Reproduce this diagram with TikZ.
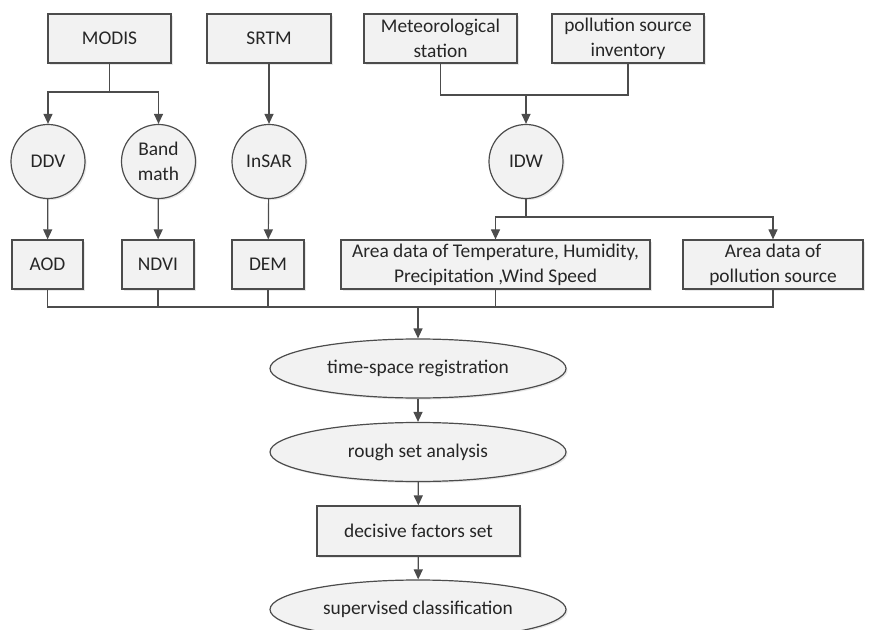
\documentclass[tikz,border=0pt]{standalone}
\usepackage{fontspec}
\setmainfont{Carlito}
\usetikzlibrary{arrows.meta,shapes.geometric,shadows}

\begin{document}
\begin{tikzpicture}[x=0.5pt,y=-0.5pt,
    font=\fontsize{9.7}{12.6}\selectfont, text=black!85,
    base/.style={draw=black!70, fill=black!5, line width=0.6pt, align=center,
      inner sep=1pt, drop shadow={shadow xshift=0.8pt, shadow yshift=-0.8pt, opacity=0.18}},
    box/.style={base, rectangle, minimum height=24.5pt},
    proc/.style={base, circle, minimum size=37pt},
    oval/.style={base, ellipse, minimum width=148pt, minimum height=29.5pt},
    link/.style={draw=black!70, line width=0.6pt},
    arr/.style={link, -{Triangle[length=5pt,width=4.5pt]}}]
    \clip (0,0) rectangle (887,630);
    \useasboundingbox (0,0) rectangle (887,630);
    \node[box, minimum width=61.5pt] (modis) at (109.5,38.5) {MODIS};
    \node[box, minimum width=62pt] (srtm) at (269,38.5) {SRTM};
    \node[box, minimum width=76.5pt] (met) at (440.5,38.5) {Meteorological\\station};
    \node[box, minimum width=76pt] (inv) at (628,38.5) {pollution source\\inventory};
    \node[proc] (ddv) at (48,161.5) {DDV};
    \node[proc] (band) at (158.5,161.5) {Band\\math};
    \node[proc] (insar) at (269,161.5) {InSAR};
    \node[proc] (idw) at (526,161.5) {IDW};
    \node[box, minimum width=35.5pt] (aod) at (47.5,264.5) {AOD};
    \node[box, minimum width=36pt] (ndvi) at (158,264.5) {NDVI};
    \node[box, minimum width=36pt] (dem) at (268,264.5) {DEM};
    \node[box, minimum width=154.5pt] (temp) at (495.5,264.5) {Area data of Temperature, Humidity,\\Precipitation ,Wind Speed};
    \node[box, minimum width=90pt] (psrc) at (773,264.5) {Area data of\\pollution source};
    \node[oval] (reg) at (418,368.5) {time-space registration};
    \node[oval] (rough) at (418,452) {rough set analysis};
    \node[box, minimum width=101.5pt, minimum height=25pt] (fact) at (418.5,531) {decisive factors set};
    \node[oval] (sup) at (418,609.5) {supervised classification};
    \coordinate (split1) at (109.5,92);
    \coordinate (merge1) at (526,95);
    \coordinate (split2) at (526,217);
    \coordinate (bus) at (418,307);
    \draw[arr] (modis.south) -- (split1) -| (ddv.north);
    \draw[arr] (split1) -| (band.north);
    \draw[arr] (srtm) -- (insar);
    \draw[link] (met.south) |- (merge1) -| (inv.south);
    \draw[arr] (merge1) -- (idw);
    \draw[arr] (ddv) -- (aod);
    \draw[arr] (band) -- (ndvi);
    \draw[arr] (insar) -- (dem);
    \draw[arr] (idw.south) -- (split2) -| (temp.north);
    \draw[arr] (split2) -| (psrc.north);
    \draw[link] (aod.south) |- (bus) -| (psrc.south);
    \draw[link] (ndvi.south) -- (ndvi.south |- bus);
    \draw[link] (dem.south) -- (dem.south |- bus);
    \draw[link] (temp.south) -- (temp.south |- bus);
    \draw[arr] (bus) -- (reg);
    \draw[arr] (reg) -- (rough);
    \draw[arr] (rough) -- (fact);
    \draw[arr] (fact) -- (sup);
\end{tikzpicture}
\end{document}
